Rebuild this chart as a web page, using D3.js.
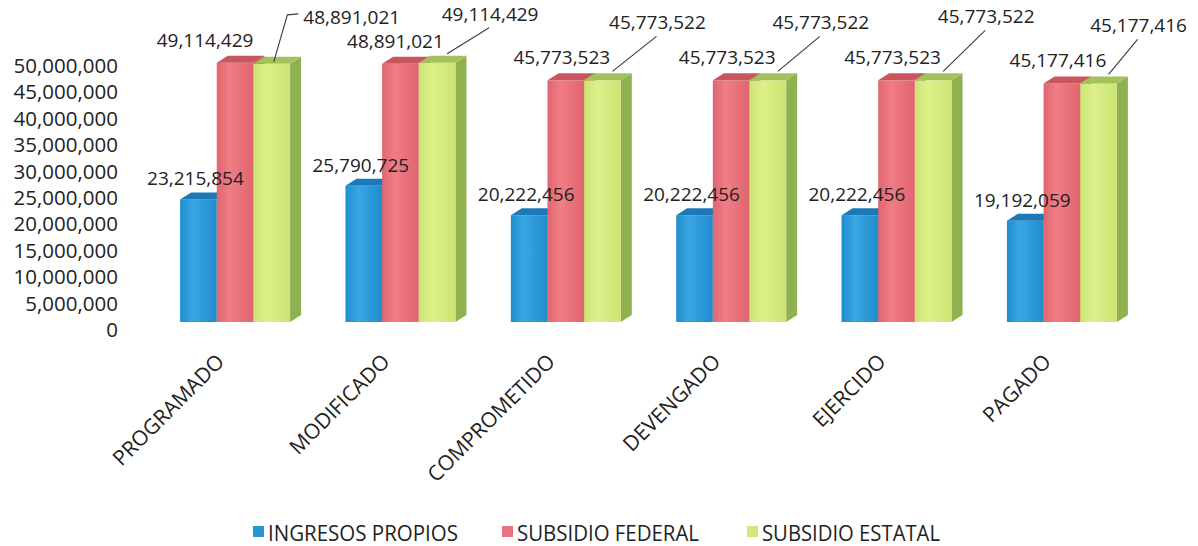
<!DOCTYPE html>
<html>
<head>
<meta charset="utf-8">
<script src="https://cdn.jsdelivr.net/npm/d3@7/dist/d3.min.js"></script>
<style>
  html, body { margin: 0; padding: 0; background: #ffffff; }
  svg { display: block; font-family: "Open Sans", Lato, sans-serif; }
</style>
</head>
<body>
<svg id="chart" width="1198" height="546"></svg>
<script>
// ---------------- data ----------------
const categories = ["PROGRAMADO", "MODIFICADO", "COMPROMETIDO", "DEVENGADO", "EJERCIDO", "PAGADO"];
const seriesNames = ["INGRESOS PROPIOS", "SUBSIDIO FEDERAL", "SUBSIDIO ESTATAL"];
const ingresosPropios = [23215854, 25790725, 20222456, 20222456, 20222456, 19192059];
const subsidioFederal = [49114429, 48891021, 45773523, 45773523, 45773523, 45177416];
const subsidioEstatal = [48891021, 49114429, 45773522, 45773522, 45773522, 45177416];
const yTickValues = [0, 5000000, 10000000, 15000000, 20000000, 25000000, 30000000, 35000000, 40000000, 45000000, 50000000];

// ---------------- styles / layout ----------------
const seriesValues = [ingresosPropios, subsidioFederal, subsidioEstatal];
const frontColors = [["#3aa6e2", "#1f8ccd"], ["#f07d86", "#e0656f"], ["#dcf08a", "#cde473"]];
const topColors = ["#1c78b8", "#c9565f", "#a4c25a"];
const sideColors = ["#1a6fa8", "#b84f57", "#8fb14f"];
const depthX = 11, depthY = -7;
const textColor = "#222222";

// per-label manual nudges (layout only)
const greenLabelOffset = [[80, -47], [53, -49], [55, -58], [53, -58], [53, -64], [40, -58]];
const redLabelNudge = [-30, -5, -4, -4, -4, -4];

const svg = d3.select("#chart");
const defs = svg.append("defs");
frontColors.forEach((c, i) => {
  const g = defs.append("linearGradient").attr("id", "grad" + i)
    .attr("x1", "0").attr("x2", "1").attr("y1", "0").attr("y2", "0");
  g.append("stop").attr("offset", "0%").attr("stop-color", c[1]);
  g.append("stop").attr("offset", "35%").attr("stop-color", c[0]);
  g.append("stop").attr("offset", "100%").attr("stop-color", c[1]);
});

const x = d3.scaleBand().domain(categories).range([152, 1145]).paddingInner(0.335).paddingOuter(0.17);
const xs = d3.scaleBand().domain(seriesNames).range([0, x.bandwidth()]);
const y = d3.scaleLinear().domain([0, 50000000]).range([322, 58]);

// y axis (labels only)
const yAxis = d3.axisLeft(y).tickValues(yTickValues).tickSize(0).tickPadding(0)
  .tickFormat(d3.format(",.0f"));
const yG = svg.append("g").attr("transform", "translate(118,8)").call(yAxis);
yG.select(".domain").remove();
yG.selectAll("text").attr("font-size", 20.5).attr("fill", textColor)
  .attr("font-family", "'Open Sans', Lato, sans-serif");

// bars
const barsG = svg.append("g");
categories.forEach((cat, ci) => {
  seriesNames.forEach((s, si) => {
    const v = seriesValues[si][ci];
    const x0 = x(cat) + xs(s), w = xs.bandwidth();
    const yt = y(v), yb = y(0);
    barsG.append("path")
      .attr("d", `M${x0 + w},${yt} L${x0 + w + depthX},${yt + depthY} L${x0 + w + depthX},${yb + depthY} L${x0 + w},${yb} Z`)
      .attr("fill", sideColors[si]);
    barsG.append("rect").attr("x", x0).attr("y", yt).attr("width", w).attr("height", yb - yt)
      .attr("fill", `url(#grad${si})`);
    barsG.append("path")
      .attr("d", `M${x0},${yt} L${x0 + depthX},${yt + depthY} L${x0 + w + depthX},${yt + depthY} L${x0 + w},${yt} Z`)
      .attr("fill", topColors[si]);
  });
});

// data labels
const fmt = d3.format(",");
const labelsG = svg.append("g").attr("font-size", 19).attr("fill", textColor);
categories.forEach((cat, ci) => {
  const bx = x(cat) + xs(seriesNames[0]) + xs.bandwidth() / 2;
  labelsG.append("text").attr("x", bx - 3).attr("y", y(ingresosPropios[ci]) - 21)
    .attr("text-anchor", "middle").attr("dominant-baseline", "central")
    .text(fmt(ingresosPropios[ci]));
  const rx = x(cat) + xs(seriesNames[1]) + xs.bandwidth() / 2;
  labelsG.append("text").attr("x", rx + redLabelNudge[ci]).attr("y", y(subsidioFederal[ci]) - 23)
    .attr("text-anchor", "middle").attr("dominant-baseline", "central")
    .text(fmt(subsidioFederal[ci]));
  const gx = x(cat) + xs(seriesNames[2]) + xs.bandwidth() / 2;
  const gy = y(subsidioEstatal[ci]);
  const lx = gx + greenLabelOffset[ci][0], ly = gy + greenLabelOffset[ci][1];
  const t = labelsG.append("text").attr("x", lx).attr("y", ly)
    .attr("text-anchor", "middle").attr("dominant-baseline", "central")
    .text(fmt(subsidioEstatal[ci]));
  const bb = t.node().getBBox();
  const sx = gx + 10, sy = gy - 9;
  let pts;
  if (sx < bb.x - 4) {
    pts = [[gx + 2, gy - 2], [bb.x - 16, ly - 2], [bb.x - 5, ly - 3]];
  } else {
    pts = [[sx, sy], [lx - 1, ly + 14]];
  }
  svg.append("path").attr("d", d3.line()(pts)).attr("fill", "none")
    .attr("stroke", "#3a3a3a").attr("stroke-width", 1.1);
});

// x axis labels (rotated)
const xG = svg.append("g");
categories.forEach(cat => {
  const cx = x(cat) + (x.bandwidth() + depthX) / 2 - 15;
  xG.append("text").attr("transform", `translate(${cx},363) rotate(-45)`)
    .attr("text-anchor", "end").attr("font-size", 21).attr("fill", textColor)
    .text(cat);
});

// legend
const legendX = [253, 502, 747];
const legendTextLen = [190, 182, 178];
const legendColors = ["#2596d6", "#e9737c", "#d2e87c"];
const legG = svg.append("g");
seriesNames.forEach((s, i) => {
  legG.append("rect").attr("x", legendX[i]).attr("y", 526).attr("width", 11).attr("height", 11)
    .attr("fill", legendColors[i]);
  legG.append("text").attr("x", legendX[i] + 15).attr("y", 532)
    .attr("dominant-baseline", "central").attr("font-size", 22).attr("fill", textColor)
    .attr("textLength", legendTextLen[i]).attr("lengthAdjust", "spacingAndGlyphs")
    .text(s);
});
</script>
</body>
</html>
